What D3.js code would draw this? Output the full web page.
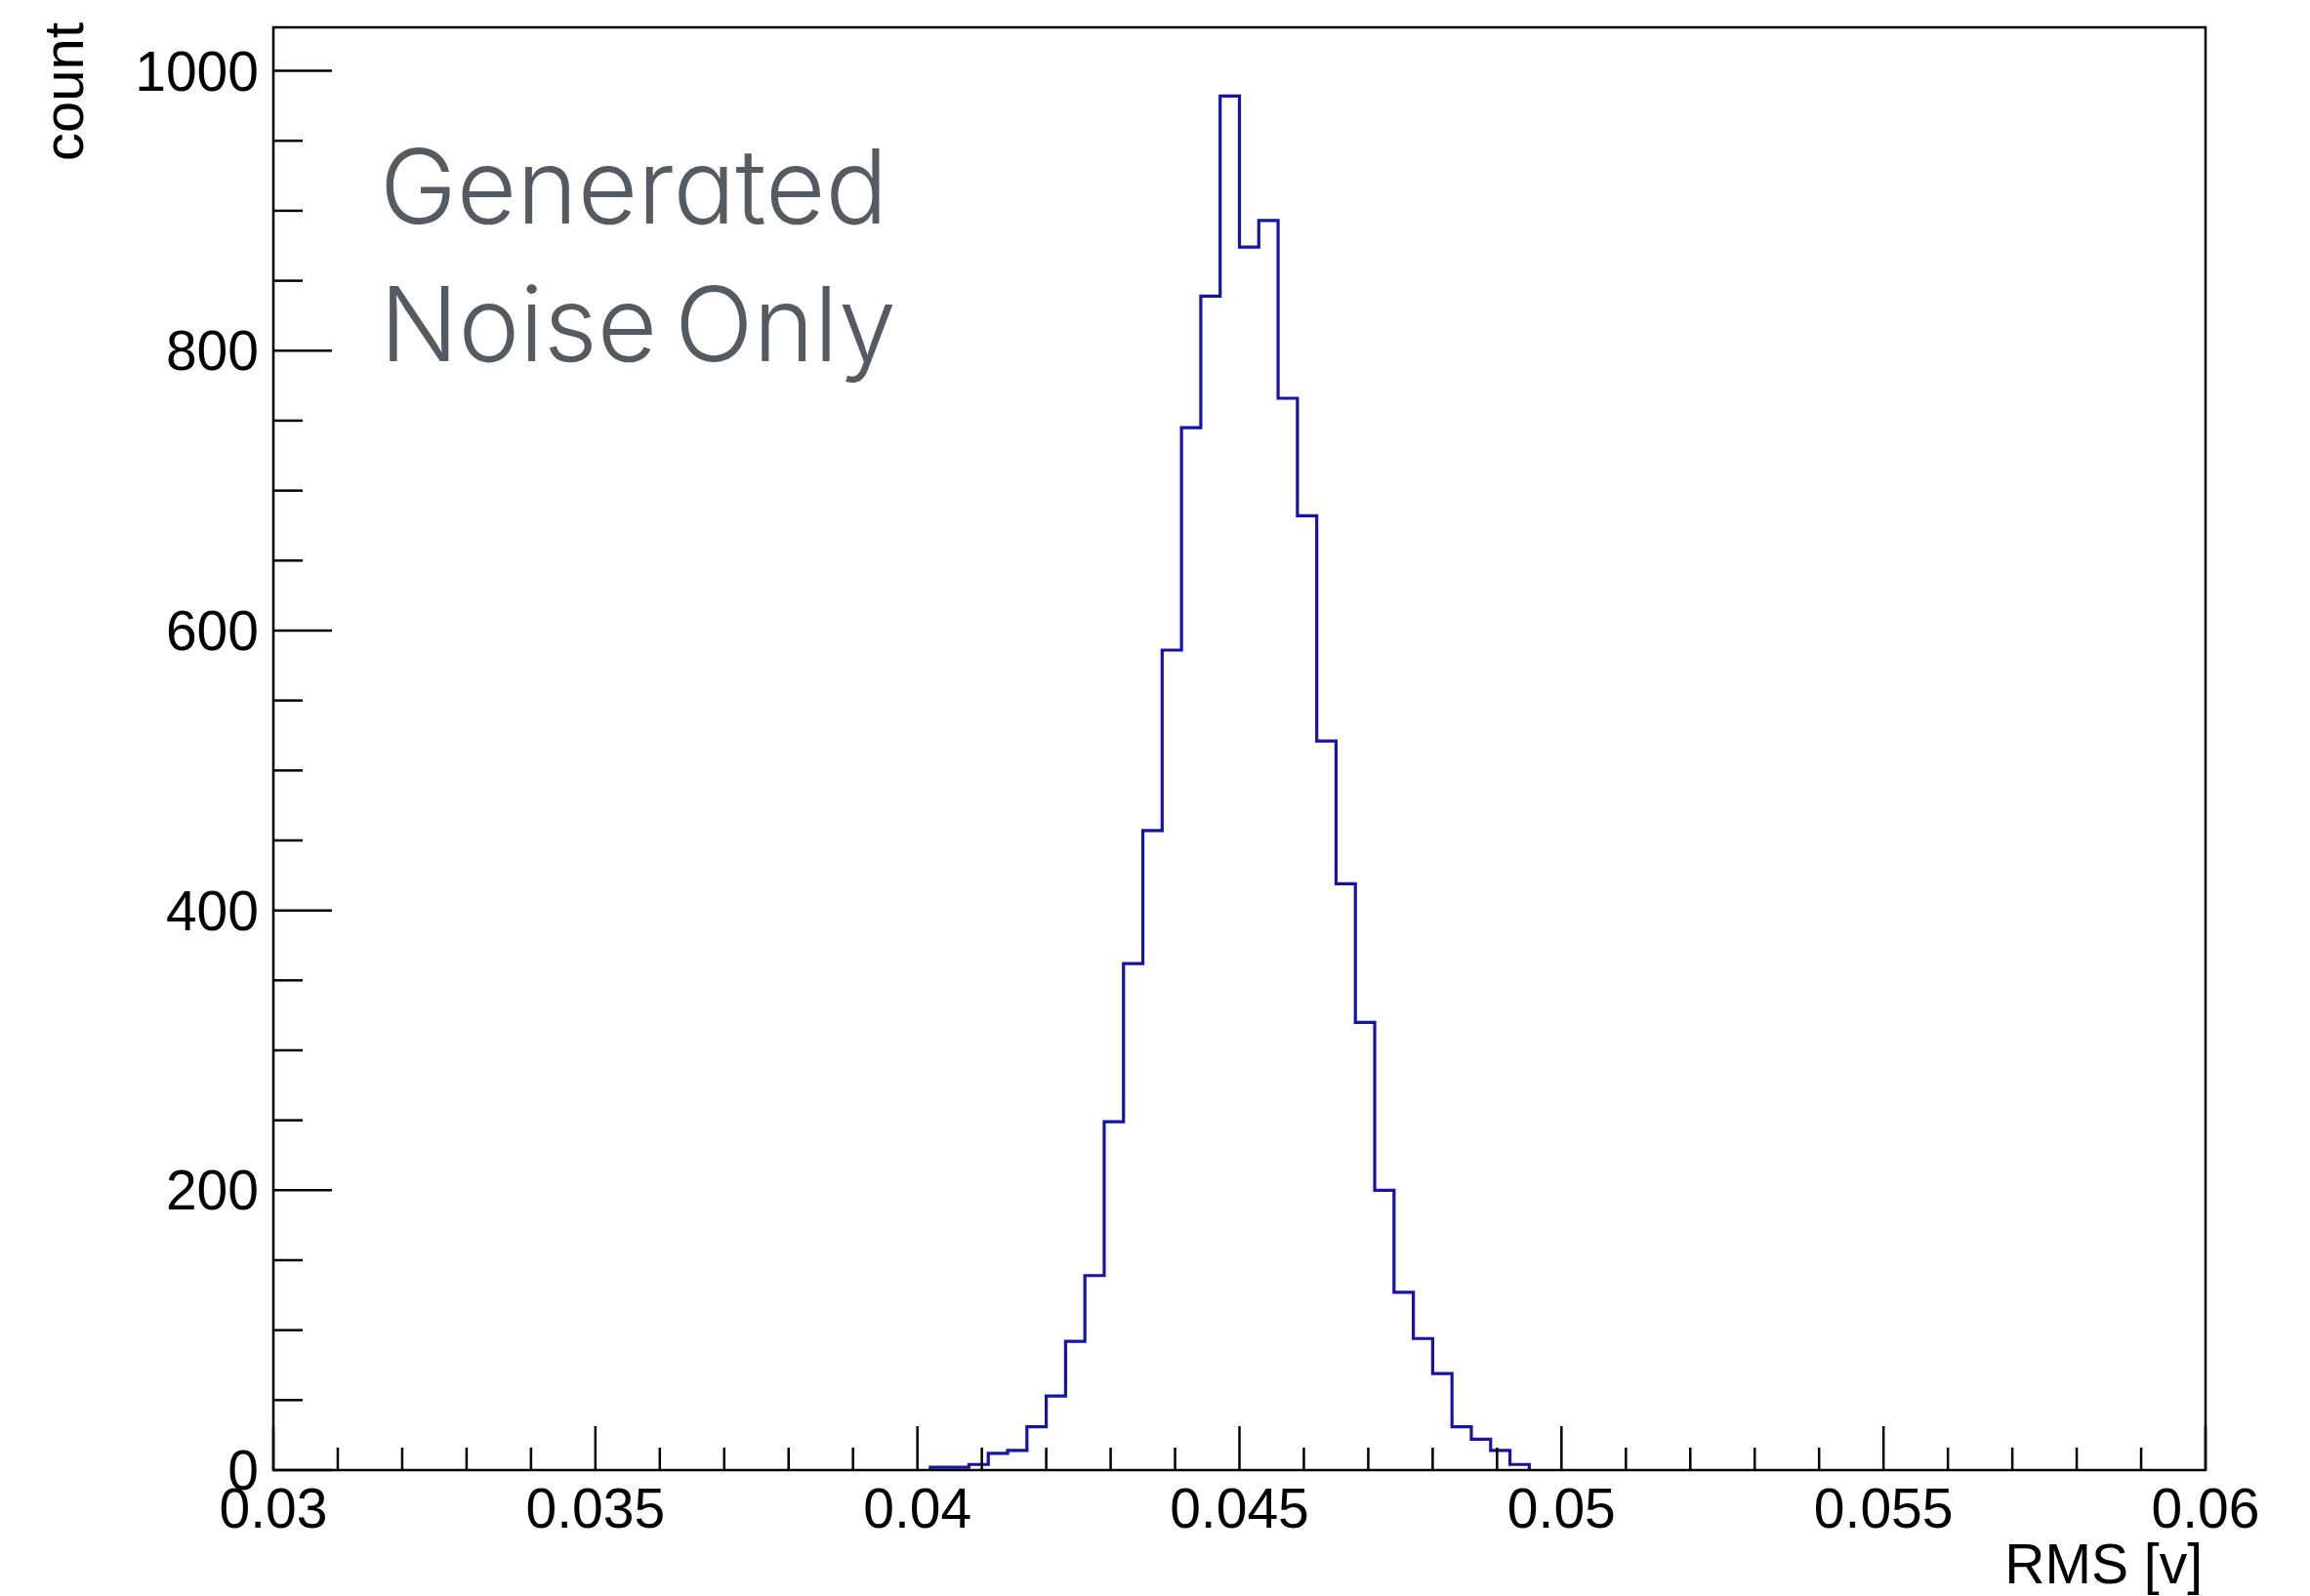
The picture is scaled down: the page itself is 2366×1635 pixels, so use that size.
<!DOCTYPE html>
<html>
<head>
<meta charset="utf-8">
<script src="https://cdn.jsdelivr.net/npm/d3@7"></script>
<style>
html,body{margin:0;padding:0;background:#fff;}
svg{display:block;}
</style>
</head>
<body>
<svg id="chart" width="2366" height="1635"></svg>
<script>
// ---- data ----
const binLow = 0.03;
const binWidth = 0.0003;
const firstBin = 34; // index of first non-empty bin
const counts = [2, 2, 4, 12, 14, 31, 53, 92, 139, 249, 362, 457, 586, 745, 839, 982,
                874, 893, 766, 682, 521, 419, 320, 200, 127, 94, 69, 31, 22, 14, 4];
const xTickValues = [0.03, 0.035, 0.04, 0.045, 0.05, 0.055, 0.06];
const xTickLabels = ["0.03", "0.035", "0.04", "0.045", "0.05", "0.055", "0.06"];
const yTickValues = [0, 200, 400, 600, 800, 1000];
const xTitle = "RMS [v]";
const yTitle = "count";
const annotation = ["Generated", "Noise Only"];

// ---- layout ----
const L = 280, R = 2259, T = 28, B = 1506;
const svg = d3.select("#chart");

const x = d3.scaleLinear().domain([0.03, 0.06]).range([L, R]);
const yMax = d3.max(counts) * 1.05;
const y = d3.scaleLinear().domain([0, yMax]).range([B, T]);

const font = "'Liberation Sans', Arial, Helvetica, sans-serif";

// histogram step path
const bins = counts.map((c, i) => ({x0: binLow + (firstBin + i) * binWidth, x1: binLow + (firstBin + i + 1) * binWidth, c}));
const pts = [];
pts.push([x(bins[0].x0), y(0)]);
bins.forEach(b => { pts.push([x(b.x0), y(b.c)]); pts.push([x(b.x1), y(b.c)]); });
pts.push([x(bins[bins.length - 1].x1), y(0)]);
svg.append("path")
  .attr("d", d3.line()(pts))
  .attr("fill", "none")
  .attr("stroke", "#1414a8")
  .attr("stroke-width", 3.2)
  .attr("stroke-linejoin", "miter");

// frame
svg.append("rect")
  .attr("x", L).attr("y", T).attr("width", R - L).attr("height", B - T)
  .attr("fill", "none").attr("stroke", "#000").attr("stroke-width", 2.5);

// x axis ticks
const xMinor = d3.range(0, 31).map(i => 0.03 + i * 0.001);
svg.append("g").selectAll("line").data(xMinor).join("line")
  .attr("x1", d => x(d)).attr("x2", d => x(d))
  .attr("y1", B).attr("y2", (d, i) => i % 5 === 0 ? B - 45 : B - 23)
  .attr("stroke", "#000").attr("stroke-width", 2.5);
svg.append("g").selectAll("text").data(xTickValues).join("text")
  .attr("x", d => x(d)).attr("y", 1565)
  .attr("text-anchor", "middle")
  .attr("font-family", font).attr("font-size", 57).attr("fill", "#000")
  .text((d, i) => xTickLabels[i]);

// y axis ticks
const yMinor = d3.range(0, 21).map(i => i * 50).filter(v => v <= yMax);
svg.append("g").selectAll("line").data(yMinor).join("line")
  .attr("x1", L).attr("x2", (d) => d % 200 === 0 ? L + 60 : L + 30)
  .attr("y1", d => y(d)).attr("y2", d => y(d))
  .attr("stroke", "#000").attr("stroke-width", 2.5);
svg.append("g").selectAll("text").data(yTickValues).join("text")
  .attr("x", 265).attr("y", d => y(d) + 20)
  .attr("text-anchor", "end")
  .attr("font-family", font).attr("font-size", 57).attr("fill", "#000")
  .text(d => String(d));

// axis titles
svg.append("text")
  .attr("x", 2256).attr("y", 1622)
  .attr("text-anchor", "end")
  .attr("font-family", font).attr("font-size", 57).attr("fill", "#000")
  .text(xTitle);
svg.append("text")
  .attr("transform", "translate(85,23) rotate(-90)")
  .attr("text-anchor", "end")
  .attr("font-family", font).attr("font-size", 58).attr("fill", "#000")
  .text(yTitle);

// annotation
svg.append("g").selectAll("text").data(annotation).join("text")
  .attr("x", 389).attr("y", (d, i) => 229 + i * 141)
  .attr("font-family", "Inter, 'Noto Sans', sans-serif")
  .attr("font-weight", 300)
  .attr("font-size", 106)
  .attr("fill", "#545b62")
  .style("font-feature-settings", "'cv11' 1")
  .style("word-spacing", "-12px")
  .text(d => d);
</script>
</body>
</html>
